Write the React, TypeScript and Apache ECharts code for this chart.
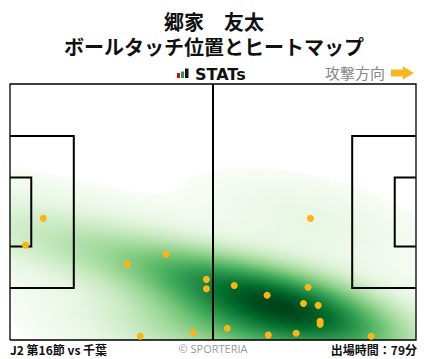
import React, { useEffect, useRef } from 'react';
import * as echarts from 'echarts';

// ---- texts ----
const playerName = '郷家　友太';
const chartTitle = 'ボールタッチ位置とヒートマップ';
const brandLabel = 'STATs';
const directionLabel = '攻撃方向';
const matchLabel = 'J2 第16節 vs 千葉';
const creditLabel = '© SPORTERIA';
const minutesLabel = '出場時間：79分';

// ---- pitch (metres) ----
const pitchLength = 105;
const pitchWidth = 68;

// ---- ball touches (metres; x toward attacking goal, y from bottom touchline) ----
const touchX = [8.6, 4.0, 40.4, 30.3, 50.8, 50.8, 33.7, 47.4, 77.7, 58.0, 77.1, 66.5, 75.9, 79.7, 80.2, 80.2, 56.2, 66.8, 74.0, 93.4];
const touchY = [32.3, 25.2, 22.8, 20.1, 16.1, 13.6, 1.0, 2.0, 32.3, 14.5, 14.0, 11.9, 9.7, 9.2, 5.0, 4.2, 3.1, 1.3, 1.8, 1.0];

// ---- pitch markings (polylines, metres) ----
const outerLine = [[0, 0], [105, 0], [105, 68], [0, 68], [0, 0]];
const halfwayLine = [[52.5, 0], [52.5, 68]];
const leftBox = [[0, 13.84], [16.5, 13.84], [16.5, 54.16], [0, 54.16]];
const leftGoalArea = [[0, 24.84], [5.5, 24.84], [5.5, 43.16], [0, 43.16]];
const rightBox = [[105, 13.84], [88.5, 13.84], [88.5, 54.16], [105, 54.16]];
const rightGoalArea = [[105, 24.84], [99.5, 24.84], [99.5, 43.16], [105, 43.16]];

const greens = ['#f7fcf5', '#e5f5e0', '#c7e9c0', '#a1d99b', '#74c476', '#41ab5d', '#238b45', '#006d2c', '#00441b'];

const NX = 203;
const NY = 128;
const BW_ADJUST = 1.2;
const THRESH = 0.02;
const CUT = 3;
const SUPPORT_N = 200;

function buildDensity() {
  const n = touchX.length;
  const mx = touchX.reduce((a, b) => a + b, 0) / n;
  const my = touchY.reduce((a, b) => a + b, 0) / n;
  let sxx = 0, syy = 0, sxy = 0;
  for (let k = 0; k < n; k++) {
    const dx = touchX[k] - mx, dy = touchY[k] - my;
    sxx += dx * dx; syy += dy * dy; sxy += dx * dy;
  }
  sxx /= n - 1; syy /= n - 1; sxy /= n - 1;
  const f = Math.pow(n, -1 / 6) * BW_ADJUST;
  const a = sxx * f * f, b = sxy * f * f, c = syy * f * f;
  const det = a * c - b * b;
  const ia = c / det, ib = -b / det, ic = a / det;
  const dens = (x: number, y: number) => {
    let s = 0;
    for (let k = 0; k < n; k++) {
      const dx = x - touchX[k], dy = y - touchY[k];
      s += Math.exp(-0.5 * (ia * dx * dx + 2 * ib * dx * dy + ic * dy * dy));
    }
    return s;
  };
  const bx = Math.sqrt(a), by = Math.sqrt(c);
  const x0 = Math.min(...touchX) - CUT * bx, x1 = Math.max(...touchX) + CUT * bx;
  const y0 = Math.min(...touchY) - CUT * by, y1 = Math.max(...touchY) + CUT * by;
  const sup: number[] = [];
  let total = 0;
  for (let j = 0; j < SUPPORT_N; j++) {
    const y = y0 + (y1 - y0) * j / (SUPPORT_N - 1);
    for (let i = 0; i < SUPPORT_N; i++) {
      const x = x0 + (x1 - x0) * i / (SUPPORT_N - 1);
      const v = dens(x, y);
      sup.push(v);
      total += v;
    }
  }
  sup.sort((p, q) => q - p);
  const max = sup[0];
  let cum = 0, level = 0;
  for (const v of sup) {
    cum += v;
    if (cum / total >= 1 - THRESH) { level = v; break; }
  }
  const cells: number[][] = [];
  for (let j = 0; j < NY; j++) {
    const y = (j + 0.5) * pitchWidth / NY;
    for (let i = 0; i < NX; i++) {
      const x = (i + 0.5) * pitchLength / NX;
      const v = dens(x, y);
      if (v >= level) cells.push([i, j, v / max]);
    }
  }
  return { data: cells, level: level / max };
}

export default function App() {
  const ref = useRef<HTMLDivElement>(null);
  useEffect(() => {
    if (!ref.current) return;
    const chart = echarts.init(ref.current, null, { renderer: 'svg' });
    const dens = buildDensity();
    const xCats = Array.from({ length: NX }, (_, i) => String(i));
    const yCats = Array.from({ length: NY }, (_, i) => String(i));
    const markings = [outerLine, halfwayLine, leftBox, leftGoalArea, rightBox, rightGoalArea];
    const markWidths = [1.3, 2, 2, 2, 2, 2];
    const cjk = '"Noto Sans CJK JP", "Noto Sans", sans-serif';

    chart.setOption({
      animation: false,
      backgroundColor: '#ffffff',
      grid: [
        { left: 10, top: 84, width: 406, height: 256 },
        { left: 10, top: 84, width: 406, height: 256 },
      ],
      xAxis: [
        { type: 'category', data: xCats, gridIndex: 0, show: false },
        { type: 'value', min: 0, max: pitchLength, gridIndex: 1, show: false },
      ],
      yAxis: [
        { type: 'category', data: yCats, gridIndex: 0, show: false },
        { type: 'value', min: 0, max: pitchWidth, gridIndex: 1, show: false },
      ],
      visualMap: {
        show: false,
        type: 'continuous',
        seriesIndex: 0,
        dimension: 2,
        min: dens.level,
        max: 1,
        inRange: { color: greens },
      },
      series: [
        {
          type: 'heatmap',
          xAxisIndex: 0,
          yAxisIndex: 0,
          data: dens.data,
          progressive: 0,
          silent: true,
          itemStyle: { borderWidth: 0 },
        },
        {
          type: 'lines',
          coordinateSystem: 'cartesian2d',
          xAxisIndex: 1,
          yAxisIndex: 1,
          polyline: true,
          silent: true,
          clip: false,
          lineStyle: { color: '#000000', opacity: 1, width: 2 },
          data: markings.map((pts, k) => ({ coords: pts, lineStyle: { width: markWidths[k], color: '#000000', opacity: 1 } })),
          z: 3,
        },
        {
          type: 'scatter',
          xAxisIndex: 1,
          yAxisIndex: 1,
          symbol: 'circle',
          symbolSize: 7,
          silent: true,
          itemStyle: { color: '#FDB515', opacity: 1 },
          data: touchX.map((x, i) => [x, touchY[i]]),
          z: 4,
        },
      ],
      graphic: [
        { type: 'text', style: { text: playerName + '\n' + chartTitle, x: 214, y: 33.5, textAlign: 'center', textVerticalAlign: 'middle', lineHeight: 25, fill: '#111', font: `bold 20px ${cjk}` } },
        { type: 'rect', shape: { x: 177, y: 73, width: 3, height: 5 }, style: { fill: '#e60012' } },
        { type: 'rect', shape: { x: 181, y: 71.5, width: 3, height: 6.5 }, style: { fill: '#1e9e3e' } },
        { type: 'rect', shape: { x: 185, y: 68.5, width: 3.5, height: 9.5 }, style: { fill: '#111' } },
        { type: 'text', style: { text: brandLabel, x: 195, y: 74, textAlign: 'left', textVerticalAlign: 'middle', fill: '#111', font: 'bold 16px "DejaVu Sans", sans-serif' } },
        { type: 'text', style: { text: directionLabel, x: 385, y: 72.5, textAlign: 'right', textVerticalAlign: 'middle', fill: '#888888', font: `15px ${cjk}` } },
        { type: 'polygon', shape: { points: [[391, 69.5], [403, 69.5], [403, 66.5], [414, 73], [403, 79.5], [403, 76.5], [391, 76.5]] }, style: { fill: '#F8B51E' } },
        { type: 'text', style: { text: matchLabel, x: 10, y: 349, textAlign: 'left', textVerticalAlign: 'middle', fill: '#111', font: `bold 12px ${cjk}` } },
        { type: 'text', style: { text: creditLabel, x: 213, y: 348, textAlign: 'center', textVerticalAlign: 'middle', fill: '#999999', font: '11px "Open Sans", sans-serif' } },
        { type: 'text', style: { text: minutesLabel, x: 417, y: 349, textAlign: 'right', textVerticalAlign: 'middle', fill: '#111', font: `bold 12px ${cjk}` } },
      ],
    });
    return () => chart.dispose();
  }, []);
  return <div ref={ref} style={{ width: 428, height: 359, position: 'absolute', left: 0, top: 0 }} />;
}
